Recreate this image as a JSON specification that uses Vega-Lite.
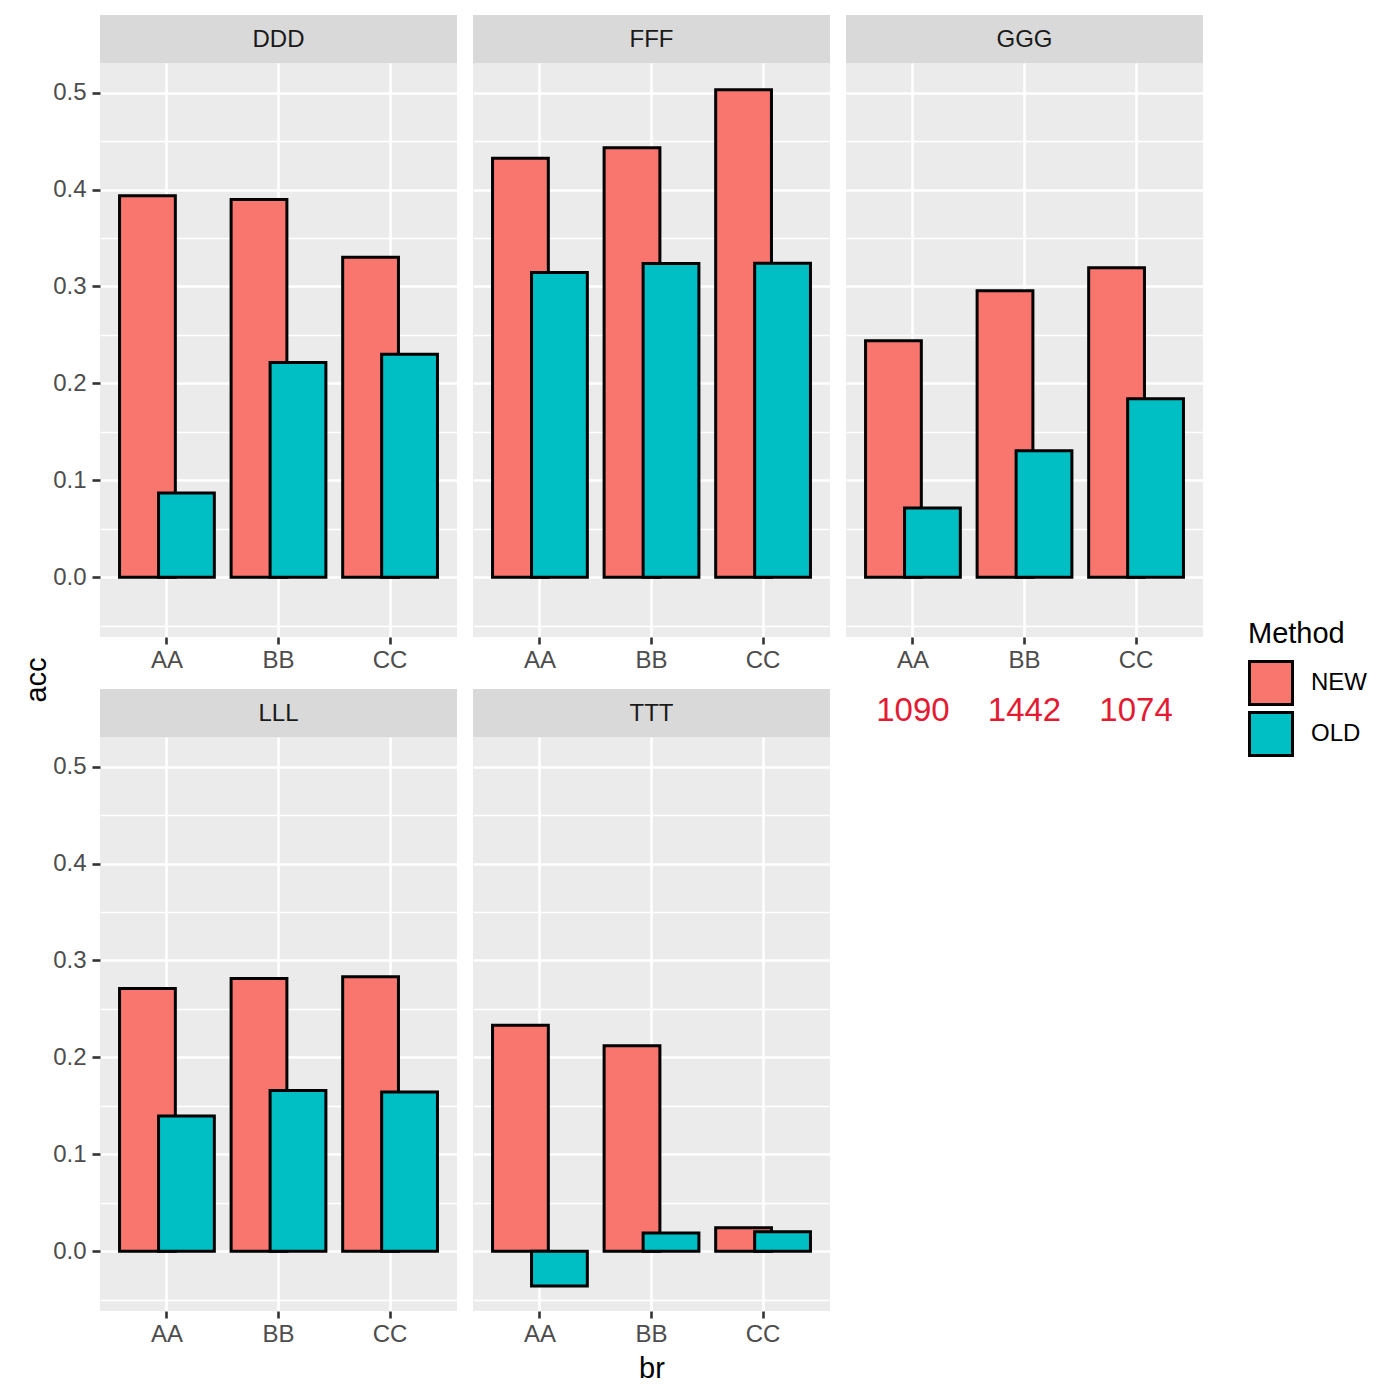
{
  "$schema": "https://vega.github.io/schema/vega-lite/v6.json",
  "padding": {"left": 22, "top": 15, "right": 5, "bottom": 5},
  "datasets": {
    "bars": [
      {"panel": "DDD", "br": "AA", "Method": "NEW", "acc": 0.3935},
      {"panel": "DDD", "br": "BB", "Method": "NEW", "acc": 0.3897},
      {"panel": "DDD", "br": "CC", "Method": "NEW", "acc": 0.3302},
      {"panel": "DDD", "br": "AA", "Method": "OLD", "acc": 0.0869},
      {"panel": "DDD", "br": "BB", "Method": "OLD", "acc": 0.2216},
      {"panel": "DDD", "br": "CC", "Method": "OLD", "acc": 0.2302},
      {"panel": "FFF", "br": "AA", "Method": "NEW", "acc": 0.4323},
      {"panel": "FFF", "br": "BB", "Method": "NEW", "acc": 0.4430},
      {"panel": "FFF", "br": "CC", "Method": "NEW", "acc": 0.5028},
      {"panel": "FFF", "br": "AA", "Method": "OLD", "acc": 0.3144},
      {"panel": "FFF", "br": "BB", "Method": "OLD", "acc": 0.3237},
      {"panel": "FFF", "br": "CC", "Method": "OLD", "acc": 0.3240},
      {"panel": "GGG", "br": "AA", "Method": "NEW", "acc": 0.2440},
      {"panel": "GGG", "br": "BB", "Method": "NEW", "acc": 0.2955},
      {"panel": "GGG", "br": "CC", "Method": "NEW", "acc": 0.3193},
      {"panel": "GGG", "br": "AA", "Method": "OLD", "acc": 0.0715},
      {"panel": "GGG", "br": "BB", "Method": "OLD", "acc": 0.1306},
      {"panel": "GGG", "br": "CC", "Method": "OLD", "acc": 0.1842},
      {"panel": "LLL", "br": "AA", "Method": "NEW", "acc": 0.2711},
      {"panel": "LLL", "br": "BB", "Method": "NEW", "acc": 0.2814},
      {"panel": "LLL", "br": "CC", "Method": "NEW", "acc": 0.2832},
      {"panel": "LLL", "br": "AA", "Method": "OLD", "acc": 0.1395},
      {"panel": "LLL", "br": "BB", "Method": "OLD", "acc": 0.1660},
      {"panel": "LLL", "br": "CC", "Method": "OLD", "acc": 0.1643},
      {"panel": "TTT", "br": "AA", "Method": "NEW", "acc": 0.2333},
      {"panel": "TTT", "br": "BB", "Method": "NEW", "acc": 0.2120},
      {"panel": "TTT", "br": "CC", "Method": "NEW", "acc": 0.0244},
      {"panel": "TTT", "br": "AA", "Method": "OLD", "acc": -0.0357},
      {"panel": "TTT", "br": "BB", "Method": "OLD", "acc": 0.0189},
      {"panel": "TTT", "br": "CC", "Method": "OLD", "acc": 0.0203}
    ],
    "panels": [
      {"panel": "DDD"}, {"panel": "FFF"}, {"panel": "GGG"}, {"panel": "LLL"}, {"panel": "TTT"}
    ],
    "counts": [
      {"br": "AA", "n": "1090"},
      {"br": "BB", "n": "1442"},
      {"br": "CC", "n": "1074"}
    ]
  },
  "config": {
    "font": "Liberation Sans",
    "view": {"fill": "#EBEBEB", "stroke": null},
    "axis": {"labelFont": "Liberation Sans", "titleFont": "Liberation Sans"},
    "legend": {"labelFont": "Liberation Sans", "titleFont": "Liberation Sans"},
    "title": {"font": "Liberation Sans"}
  },
  "title": {"text": "acc", "orient": "left", "anchor": "middle", "fontSize": 29, "fontWeight": "normal", "color": "black", "offset": 1, "dx": 19},
  "columns": 3,
  "align": "each",
  "spacing": {"row": 17, "column": 16},
  "concat": [
    {"spacing": 0, "vconcat": [
      {"width": 357, "height": 48, "data": {"name": "panels"}, "transform": [{"filter": "datum.panel === 'DDD'"}],
       "view": {"fill": "#D9D9D9", "stroke": null},
       "mark": {"type": "text", "fontSize": 24, "color": "#1A1A1A", "baseline": "middle", "align": "center", "dy": 1},
       "encoding": {"text": {"field": "panel"}}},
      {"width": 357, "height": 574, "data": {"name": "bars"}, "transform": [{"filter": "datum.panel === 'DDD'"}],
       "resolve": {"axis": {"y": "independent"}},
       "layer": [
        {"transform": [{"filter": "datum.Method === 'NEW'"}],
         "mark": {"type": "bar", "width": {"band": 0.5}, "xOffset": -19.5, "stroke": "black", "strokeWidth": 3},
         "encoding": {
          "x": {"field": "br", "type": "nominal", "scale": {"domain": ["AA", "BB", "CC"], "paddingInner": 0, "paddingOuter": 0.1},
                "axis": {"title": null, "domain": false, "grid": true, "gridColor": "white", "gridWidth": 2.6, "bandPosition": 0.5, "tickColor": "#333333", "tickWidth": 2.6, "tickSize": 7, "labelPadding": 4, "labelFontSize": 24, "labelColor": "#4D4D4D", "labelAngle": 0}},
          "y": {"field": "acc", "type": "quantitative", "scale": {"domain": [-0.0615, 0.5305], "nice": false, "zero": false},
                "axis": {"values": [0, 0.1, 0.2, 0.3, 0.4, 0.5], "format": ".1f", "title": null, "grid": true, "gridColor": "white", "gridWidth": 2.6, "domain": false, "tickColor": "#333333", "tickWidth": 2.6, "tickSize": 8, "labelPadding": 6, "labelFontSize": 24, "labelColor": "#4D4D4D"}},
          "color": {"field": "Method", "type": "nominal", "scale": {"domain": ["NEW", "OLD"], "range": ["#F8766D", "#00BFC4"]},
                    "legend": {"orient": "none", "legendX": 1148, "legendY": 605, "title": "Method", "titleFontSize": 29, "titleFontWeight": "normal", "titleColor": "black", "titlePadding": 11, "labelFontSize": 24, "labelColor": "black", "labelOffset": 17, "symbolType": "square", "symbolSize": 1849, "symbolStrokeColor": "black", "symbolStrokeWidth": 3, "symbolOpacity": 1, "rowPadding": -5.5}}
         }},
        {"transform": [{"filter": "datum.Method === 'OLD'"}],
         "mark": {"type": "bar", "width": {"band": 0.5}, "xOffset": 19.5, "stroke": "black", "strokeWidth": 3},
         "encoding": {
          "x": {"field": "br", "type": "nominal", "scale": {"domain": ["AA", "BB", "CC"], "paddingInner": 0, "paddingOuter": 0.1},
                "axis": {"title": null, "domain": false, "grid": true, "gridColor": "white", "gridWidth": 2.6, "bandPosition": 0.5, "tickColor": "#333333", "tickWidth": 2.6, "tickSize": 7, "labelPadding": 4, "labelFontSize": 24, "labelColor": "#4D4D4D", "labelAngle": 0}},
          "y": {"field": "acc", "type": "quantitative", "scale": {"domain": [-0.0615, 0.5305], "nice": false, "zero": false},
                "axis": {"values": [-0.05, 0.05, 0.15, 0.25, 0.35, 0.45], "orient": "left", "title": null, "grid": true, "gridColor": "white", "gridWidth": 1.3, "domain": false, "ticks": false, "labels": false}},
          "color": {"field": "Method", "type": "nominal"}
         }}
       ]}
    ]},
    {"spacing": 0, "vconcat": [
      {"width": 357, "height": 48, "data": {"name": "panels"}, "transform": [{"filter": "datum.panel === 'FFF'"}],
       "view": {"fill": "#D9D9D9", "stroke": null},
       "mark": {"type": "text", "fontSize": 24, "color": "#1A1A1A", "baseline": "middle", "align": "center", "dy": 1},
       "encoding": {"text": {"field": "panel"}}},
      {"width": 357, "height": 574, "data": {"name": "bars"}, "transform": [{"filter": "datum.panel === 'FFF'"}],
       "resolve": {"axis": {"y": "independent"}},
       "layer": [
        {"transform": [{"filter": "datum.Method === 'NEW'"}],
         "mark": {"type": "bar", "width": {"band": 0.5}, "xOffset": -19.5, "stroke": "black", "strokeWidth": 3},
         "encoding": {
          "x": {"field": "br", "type": "nominal", "scale": {"domain": ["AA", "BB", "CC"], "paddingInner": 0, "paddingOuter": 0.1},
                "axis": {"title": null, "domain": false, "grid": true, "gridColor": "white", "gridWidth": 2.6, "bandPosition": 0.5, "tickColor": "#333333", "tickWidth": 2.6, "tickSize": 7, "labelPadding": 4, "labelFontSize": 24, "labelColor": "#4D4D4D", "labelAngle": 0}},
          "y": {"field": "acc", "type": "quantitative", "scale": {"domain": [-0.0615, 0.5305], "nice": false, "zero": false},
                "axis": {"values": [0, 0.1, 0.2, 0.3, 0.4, 0.5], "title": null, "grid": true, "gridColor": "white", "gridWidth": 2.6, "domain": false, "ticks": false, "labels": false}},
          "color": {"field": "Method", "type": "nominal"}
         }},
        {"transform": [{"filter": "datum.Method === 'OLD'"}],
         "mark": {"type": "bar", "width": {"band": 0.5}, "xOffset": 19.5, "stroke": "black", "strokeWidth": 3},
         "encoding": {
          "x": {"field": "br", "type": "nominal", "scale": {"domain": ["AA", "BB", "CC"], "paddingInner": 0, "paddingOuter": 0.1},
                "axis": {"title": null, "domain": false, "grid": true, "gridColor": "white", "gridWidth": 2.6, "bandPosition": 0.5, "tickColor": "#333333", "tickWidth": 2.6, "tickSize": 7, "labelPadding": 4, "labelFontSize": 24, "labelColor": "#4D4D4D", "labelAngle": 0}},
          "y": {"field": "acc", "type": "quantitative", "scale": {"domain": [-0.0615, 0.5305], "nice": false, "zero": false},
                "axis": {"values": [-0.05, 0.05, 0.15, 0.25, 0.35, 0.45], "orient": "left", "title": null, "grid": true, "gridColor": "white", "gridWidth": 1.3, "domain": false, "ticks": false, "labels": false}},
          "color": {"field": "Method", "type": "nominal"}
         }}
       ]}
    ]},
    {"spacing": 0, "vconcat": [
      {"width": 357, "height": 48, "data": {"name": "panels"}, "transform": [{"filter": "datum.panel === 'GGG'"}],
       "view": {"fill": "#D9D9D9", "stroke": null},
       "mark": {"type": "text", "fontSize": 24, "color": "#1A1A1A", "baseline": "middle", "align": "center", "dy": 1},
       "encoding": {"text": {"field": "panel"}}},
      {"width": 357, "height": 574, "data": {"name": "bars"}, "transform": [{"filter": "datum.panel === 'GGG'"}],
       "resolve": {"axis": {"y": "independent"}},
       "layer": [
        {"transform": [{"filter": "datum.Method === 'NEW'"}],
         "mark": {"type": "bar", "width": {"band": 0.5}, "xOffset": -19.5, "stroke": "black", "strokeWidth": 3},
         "encoding": {
          "x": {"field": "br", "type": "nominal", "scale": {"domain": ["AA", "BB", "CC"], "paddingInner": 0, "paddingOuter": 0.1},
                "axis": {"title": null, "domain": false, "grid": true, "gridColor": "white", "gridWidth": 2.6, "bandPosition": 0.5, "tickColor": "#333333", "tickWidth": 2.6, "tickSize": 7, "labelPadding": 4, "labelFontSize": 24, "labelColor": "#4D4D4D", "labelAngle": 0}},
          "y": {"field": "acc", "type": "quantitative", "scale": {"domain": [-0.0615, 0.5305], "nice": false, "zero": false},
                "axis": {"values": [0, 0.1, 0.2, 0.3, 0.4, 0.5], "title": null, "grid": true, "gridColor": "white", "gridWidth": 2.6, "domain": false, "ticks": false, "labels": false}},
          "color": {"field": "Method", "type": "nominal"}
         }},
        {"transform": [{"filter": "datum.Method === 'OLD'"}],
         "mark": {"type": "bar", "width": {"band": 0.5}, "xOffset": 19.5, "stroke": "black", "strokeWidth": 3},
         "encoding": {
          "x": {"field": "br", "type": "nominal", "scale": {"domain": ["AA", "BB", "CC"], "paddingInner": 0, "paddingOuter": 0.1},
                "axis": {"title": null, "domain": false, "grid": true, "gridColor": "white", "gridWidth": 2.6, "bandPosition": 0.5, "tickColor": "#333333", "tickWidth": 2.6, "tickSize": 7, "labelPadding": 4, "labelFontSize": 24, "labelColor": "#4D4D4D", "labelAngle": 0}},
          "y": {"field": "acc", "type": "quantitative", "scale": {"domain": [-0.0615, 0.5305], "nice": false, "zero": false},
                "axis": {"values": [-0.05, 0.05, 0.15, 0.25, 0.35, 0.45], "orient": "left", "title": null, "grid": true, "gridColor": "white", "gridWidth": 1.3, "domain": false, "ticks": false, "labels": false}},
          "color": {"field": "Method", "type": "nominal"}
         }}
       ]}
    ]},
    {"spacing": 0, "vconcat": [
      {"width": 357, "height": 48, "data": {"name": "panels"}, "transform": [{"filter": "datum.panel === 'LLL'"}],
       "view": {"fill": "#D9D9D9", "stroke": null},
       "mark": {"type": "text", "fontSize": 24, "color": "#1A1A1A", "baseline": "middle", "align": "center", "dy": 1},
       "encoding": {"text": {"field": "panel"}}},
      {"width": 357, "height": 574, "data": {"name": "bars"}, "transform": [{"filter": "datum.panel === 'LLL'"}],
       "resolve": {"axis": {"y": "independent"}},
       "layer": [
        {"transform": [{"filter": "datum.Method === 'NEW'"}],
         "mark": {"type": "bar", "width": {"band": 0.5}, "xOffset": -19.5, "stroke": "black", "strokeWidth": 3},
         "encoding": {
          "x": {"field": "br", "type": "nominal", "scale": {"domain": ["AA", "BB", "CC"], "paddingInner": 0, "paddingOuter": 0.1},
                "axis": {"title": null, "domain": false, "grid": true, "gridColor": "white", "gridWidth": 2.6, "bandPosition": 0.5, "tickColor": "#333333", "tickWidth": 2.6, "tickSize": 7, "labelPadding": 4, "labelFontSize": 24, "labelColor": "#4D4D4D", "labelAngle": 0}},
          "y": {"field": "acc", "type": "quantitative", "scale": {"domain": [-0.0615, 0.5305], "nice": false, "zero": false},
                "axis": {"values": [0, 0.1, 0.2, 0.3, 0.4, 0.5], "format": ".1f", "title": null, "grid": true, "gridColor": "white", "gridWidth": 2.6, "domain": false, "tickColor": "#333333", "tickWidth": 2.6, "tickSize": 8, "labelPadding": 6, "labelFontSize": 24, "labelColor": "#4D4D4D"}},
          "color": {"field": "Method", "type": "nominal"}
         }},
        {"transform": [{"filter": "datum.Method === 'OLD'"}],
         "mark": {"type": "bar", "width": {"band": 0.5}, "xOffset": 19.5, "stroke": "black", "strokeWidth": 3},
         "encoding": {
          "x": {"field": "br", "type": "nominal", "scale": {"domain": ["AA", "BB", "CC"], "paddingInner": 0, "paddingOuter": 0.1},
                "axis": {"title": null, "domain": false, "grid": true, "gridColor": "white", "gridWidth": 2.6, "bandPosition": 0.5, "tickColor": "#333333", "tickWidth": 2.6, "tickSize": 7, "labelPadding": 4, "labelFontSize": 24, "labelColor": "#4D4D4D", "labelAngle": 0}},
          "y": {"field": "acc", "type": "quantitative", "scale": {"domain": [-0.0615, 0.5305], "nice": false, "zero": false},
                "axis": {"values": [-0.05, 0.05, 0.15, 0.25, 0.35, 0.45], "orient": "left", "title": null, "grid": true, "gridColor": "white", "gridWidth": 1.3, "domain": false, "ticks": false, "labels": false}},
          "color": {"field": "Method", "type": "nominal"}
         }}
       ]}
    ]},
    {"spacing": 0, "vconcat": [
      {"width": 357, "height": 48, "data": {"name": "panels"}, "transform": [{"filter": "datum.panel === 'TTT'"}],
       "view": {"fill": "#D9D9D9", "stroke": null},
       "mark": {"type": "text", "fontSize": 24, "color": "#1A1A1A", "baseline": "middle", "align": "center", "dy": 1},
       "encoding": {"text": {"field": "panel"}}},
      {"width": 357, "height": 574, "data": {"name": "bars"}, "transform": [{"filter": "datum.panel === 'TTT'"}],
       "resolve": {"axis": {"y": "independent"}},
       "layer": [
        {"transform": [{"filter": "datum.Method === 'NEW'"}],
         "mark": {"type": "bar", "width": {"band": 0.5}, "xOffset": -19.5, "stroke": "black", "strokeWidth": 3},
         "encoding": {
          "x": {"field": "br", "type": "nominal", "scale": {"domain": ["AA", "BB", "CC"], "paddingInner": 0, "paddingOuter": 0.1},
                "axis": {"title": "br", "titleFontSize": 29, "titleFontWeight": "normal", "titleColor": "black", "titlePadding": 8, "domain": false, "grid": true, "gridColor": "white", "gridWidth": 2.6, "bandPosition": 0.5, "tickColor": "#333333", "tickWidth": 2.6, "tickSize": 7, "labelPadding": 4, "labelFontSize": 24, "labelColor": "#4D4D4D", "labelAngle": 0}},
          "y": {"field": "acc", "type": "quantitative", "scale": {"domain": [-0.0615, 0.5305], "nice": false, "zero": false},
                "axis": {"values": [0, 0.1, 0.2, 0.3, 0.4, 0.5], "title": null, "grid": true, "gridColor": "white", "gridWidth": 2.6, "domain": false, "ticks": false, "labels": false}},
          "color": {"field": "Method", "type": "nominal"}
         }},
        {"transform": [{"filter": "datum.Method === 'OLD'"}],
         "mark": {"type": "bar", "width": {"band": 0.5}, "xOffset": 19.5, "stroke": "black", "strokeWidth": 3},
         "encoding": {
          "x": {"field": "br", "type": "nominal", "scale": {"domain": ["AA", "BB", "CC"], "paddingInner": 0, "paddingOuter": 0.1},
                "axis": {"title": "br", "titleFontSize": 29, "titleFontWeight": "normal", "titleColor": "black", "titlePadding": 8, "domain": false, "grid": true, "gridColor": "white", "gridWidth": 2.6, "bandPosition": 0.5, "tickColor": "#333333", "tickWidth": 2.6, "tickSize": 7, "labelPadding": 4, "labelFontSize": 24, "labelColor": "#4D4D4D", "labelAngle": 0}},
          "y": {"field": "acc", "type": "quantitative", "scale": {"domain": [-0.0615, 0.5305], "nice": false, "zero": false},
                "axis": {"values": [-0.05, 0.05, 0.15, 0.25, 0.35, 0.45], "orient": "left", "title": null, "grid": true, "gridColor": "white", "gridWidth": 1.3, "domain": false, "ticks": false, "labels": false}},
          "color": {"field": "Method", "type": "nominal"}
         }}
       ]}
    ]},
    {"width": 357, "height": 48, "data": {"name": "counts"},
     "view": {"fill": null, "stroke": null},
     "mark": {"type": "text", "fontSize": 33, "color": "#E41A32", "baseline": "middle", "align": "center", "dy": -2},
     "encoding": {
      "x": {"field": "br", "type": "nominal", "scale": {"type": "point", "domain": ["AA", "BB", "CC"], "padding": 0.6}, "axis": null},
      "text": {"field": "n"}
     }}
  ]
}
